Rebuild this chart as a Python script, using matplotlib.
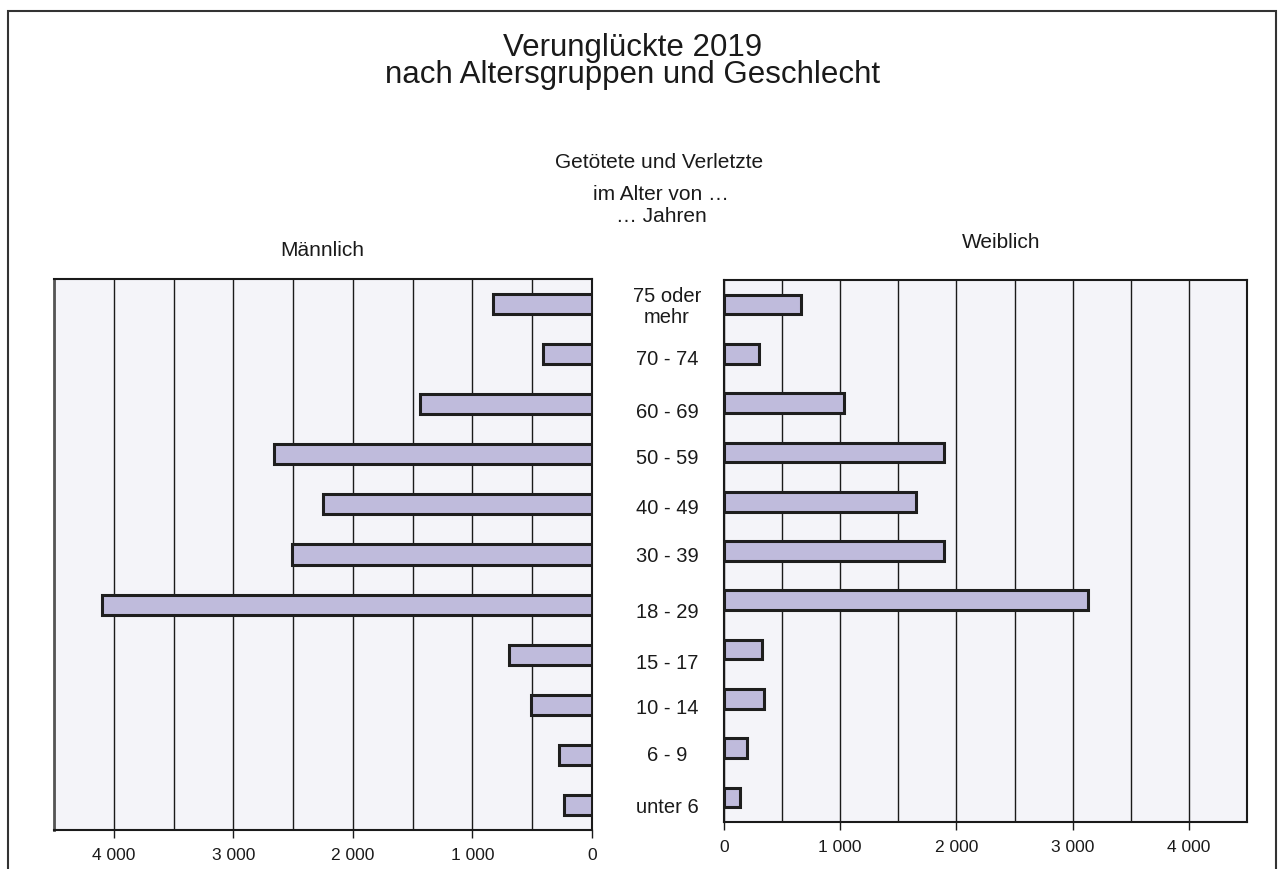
import matplotlib
matplotlib.use("Agg")
import matplotlib.pyplot as plt
from matplotlib.ticker import FuncFormatter, MultipleLocator
from matplotlib.patches import Rectangle
import matplotlib.transforms as mtrans

plt.rcParams['font.family'] = ['Liberation Sans', 'DejaVu Sans']

# Data (bottom to top)
categories = ["unter 6", "6 - 9", "10 - 14", "15 - 17", "18 - 29", "30 - 39",
              "40 - 49", "50 - 59", "60 - 69", "70 - 74", "75 oder\nmehr"]
maennlich = [237, 279, 510, 696, 4099, 2513, 2253, 2657, 1436, 407, 824]
weiblich = [138, 197, 343, 331, 3132, 1892, 1650, 1892, 1032, 302, 659]
tick_values = [0, 1000, 2000, 3000, 4000]

W, H = 1285, 870
fig = plt.figure(figsize=(W / 100, H / 100), dpi=100)

def rect(x0, y0, x1, y1):
    return [x0 / W, 1 - y1 / H, (x1 - x0) / W, (y1 - y0) / H]

bar_fc = "#BFBBDC"
bar_ec = "#1E1E1E"
ax_bg = "#F4F4F9"
txt = "#1a1a1a"

ax_l = fig.add_axes(rect(54, 280, 592, 831))
ax_r = fig.add_axes(rect(724, 281, 1247, 823))

fmt = FuncFormatter(lambda v, p: f"{int(v):,}".replace(",", " "))

ypos = list(range(len(categories)))
for ax, vals in ((ax_l, maennlich), (ax_r, weiblich)):
    ax.set_facecolor(ax_bg)
    ax.barh(ypos, vals, height=0.4, color=bar_fc, edgecolor=bar_ec,
            linewidth=2.2, zorder=3)
    ax.set_xlim(0, 4500)
    ax.set_ylim(-0.5, len(categories) - 0.5)
    ax.xaxis.set_minor_locator(MultipleLocator(500))
    ax.set_xticks(tick_values)
    ax.xaxis.set_major_formatter(fmt)
    ax.grid(True, axis="x", which="both", color="#1a1a1a", linewidth=1.0, zorder=1)
    ax.set_axisbelow(True)
    ax.set_yticks([])
    ax.tick_params(axis="x", which="major", direction="out", length=6, width=1.0,
                   labelsize=12.5, pad=6, colors=txt)
    ax.tick_params(axis="x", which="minor", length=0)
    for s in ax.spines.values():
        s.set_linewidth(1.5)
        s.set_color("#1a1a1a")

ax_l.invert_xaxis()
ax_l.spines['left'].set_color("#555555")
ax_l.spines['left'].set_linewidth(2)

# category labels between the panels
trans = mtrans.blended_transform_factory(fig.transFigure, ax_r.transData)
label_offsets = [-0.18, -0.14, -0.18, -0.26, -0.22, -0.1, -0.12, -0.1, -0.16, -0.1, -0.03]
for y, lab, off in zip(ypos, categories, label_offsets):
    fig.text(667 / W, y + off, lab, transform=trans, ha="center", va="center",
             fontsize=14.5, color=txt, linespacing=1.15)

# titles
fig.text(633 / W, 1 - 48 / H, "Verunglückte 2019", ha="center", va="center",
         fontsize=22.5, color=txt)
fig.text(633 / W, 1 - 75 / H, "nach Altersgruppen und Geschlecht", ha="center",
         va="center", fontsize=22.5, color=txt)
fig.text(659 / W, 1 - 162 / H, "Getötete und Verletzte", ha="center", va="center",
         fontsize=15, color=txt)
fig.text(661 / W, 1 - 194 / H, "im Alter von …", ha="center", va="center",
         fontsize=15, color=txt)
fig.text(661 / W, 1 - 216 / H, "… Jahren", ha="center", va="center",
         fontsize=15, color=txt)
fig.text(322 / W, 1 - 250 / H, "Männlich", ha="center", va="center",
         fontsize=15, color=txt)
fig.text(1001 / W, 1 - 242 / H, "Weiblich", ha="center", va="center",
         fontsize=15, color=txt)

# outer frame
frame = Rectangle((8 / W, -0.05), (1276 - 8) / W, 1.05 - 12 / H,
                  transform=fig.transFigure, fill=False, edgecolor="#333333",
                  linewidth=1.5, clip_on=False)
fig.patches.append(frame)

fig.savefig("out.png", dpi=100, facecolor="white")
